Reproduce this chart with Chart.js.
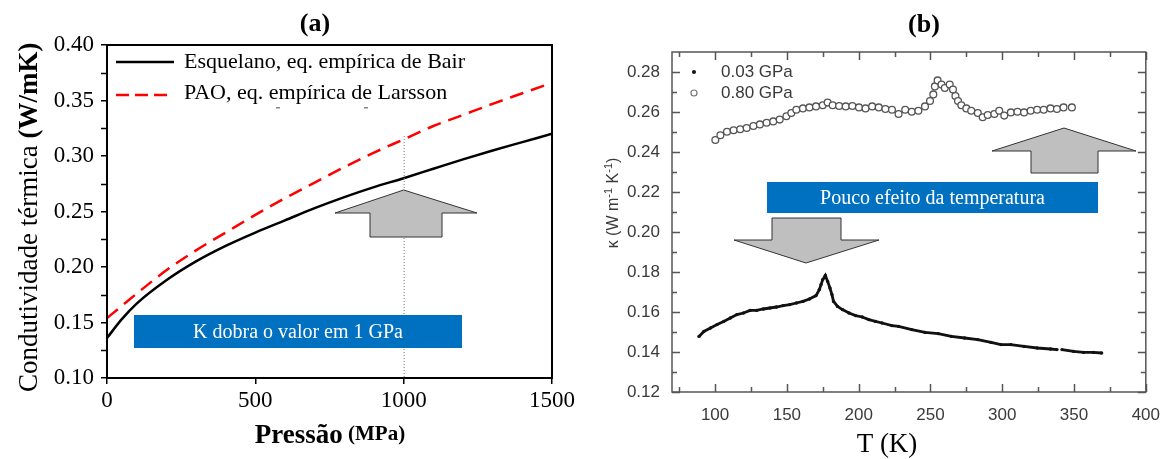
<!DOCTYPE html>
<html>
<head>
<meta charset="utf-8">
<script src="https://cdn.jsdelivr.net/npm/chart.js@4.4.1/dist/chart.umd.min.js"></script>
<style>
  body { margin: 0; background: #fff; width: 1173px; height: 459px; overflow: hidden; position: relative; }
  #wrapA { position: absolute; left: 0; top: 0; width: 585px; height: 459px; }
  #wrapB { position: absolute; left: 585px; top: 0; width: 588px; height: 459px; }
</style>
</head>
<body>
<div id="wrapA"><canvas id="chartA"></canvas></div>
<div id="wrapB"><canvas id="chartB"></canvas></div>
<script>
// ---- (a) conductivity vs pressure ----
const pressure = [0, 50, 100, 200, 300, 400, 500, 600, 700, 800, 900, 1000, 1100, 1200, 1300, 1400, 1500];
const kBair    = [0.136, 0.153, 0.167, 0.188, 0.205, 0.219, 0.231, 0.242, 0.253, 0.263, 0.272, 0.280, 0.2885, 0.297, 0.305, 0.3125, 0.320];
const kLarsson = [0.154, 0.165, 0.176, 0.197, 0.215, 0.231, 0.247, 0.262, 0.276, 0.290, 0.303, 0.315, 0.327, 0.337, 0.347, 0.3565, 0.366];
const xTicksA = [0, 500, 1000, 1500];
const yTicksA = [0.10, 0.15, 0.20, 0.25, 0.30, 0.35, 0.40];
const yMinorA = [0.125, 0.175, 0.225, 0.275, 0.325, 0.375];

// ---- (b) conductivity vs temperature ----
const tempLow = [88.8, 92.2, 96.8, 101.4, 106, 110.6, 115.2, 119.8, 124.4, 129, 133.6, 138.2, 142.8, 147.4, 152, 156.6,
  161.2, 165.7, 170.3, 172.6, 173.8, 175, 176.8, 178.4, 180, 181.4, 182.5, 185.3, 188.7, 193.3, 197.9, 202.5, 207.1,
  211.7, 216.3, 223.2, 227.8, 237, 246.2, 255.4, 264.6, 273.8, 283, 292.2, 299.1, 306, 315.2, 324.4, 333.6, 338.1,
  340, 341.6, 349.7, 356.6, 363.4, 369.2];
const kLow = [0.1478, 0.1503, 0.1520, 0.1537, 0.1553, 0.1570, 0.1587, 0.1595, 0.1608, 0.1608, 0.1615, 0.1620, 0.1625, 0.1632, 0.1637, 0.1645,
  0.1653, 0.1665, 0.1682, 0.1712, 0.1737, 0.1762, 0.1783, 0.1753, 0.1720, 0.1687, 0.1653, 0.1628, 0.1612, 0.1595, 0.1582, 0.1575, 0.1562,
  0.1553, 0.1545, 0.1532, 0.1528, 0.1512, 0.1498, 0.1492, 0.1478, 0.1470, 0.1462, 0.1448, 0.1437, 0.1437, 0.1428, 0.1420, 0.1415, 0.1412,
  null, 0.1412, 0.1403, 0.1398, 0.1398, 0.1395];
const tempHigh = [100.2, 103.7, 108.3, 112.9, 117.5, 122, 126.7, 131.2, 135.9, 140.5, 145, 149.7, 153.1, 156.6, 161.2, 165.7,
  170.3, 175, 178.4, 181.9, 186.4, 191, 195.6, 200.2, 204.8, 209.4, 214, 218.6, 223.2, 227.8, 232.4, 237, 241.6, 246.2,
  249.7, 252, 253.1, 255, 257.7, 260, 263.4, 265.7, 267.4, 269.2, 271.5, 275, 278.4, 283, 286.4, 289.9, 294.5, 297.9,
  301.4, 306, 310.6, 315.2, 319.8, 324.3, 328.9, 333.6, 338.1, 342.7, 348.5];
const kHigh = [0.2460, 0.2484, 0.2501, 0.2509, 0.2514, 0.2520, 0.2530, 0.2538, 0.2546, 0.2553, 0.2562, 0.2579, 0.2595, 0.2611, 0.2618, 0.2623,
  0.2628, 0.2634, 0.2647, 0.2634, 0.2630, 0.2628, 0.2630, 0.2623, 0.2618, 0.2628, 0.2623, 0.2615, 0.2611, 0.2590, 0.2611, 0.2601, 0.2606, 0.2628,
  0.2655, 0.2688, 0.2728, 0.2758, 0.2737, 0.2720, 0.2737, 0.2712, 0.2680, 0.2655, 0.2634, 0.2618, 0.2606, 0.2595, 0.2574, 0.2585, 0.2590, 0.2606,
  0.2582, 0.2598, 0.2601, 0.2598, 0.2606, 0.2611, 0.2611, 0.2618, 0.2615, 0.2623, 0.2623];
const xTicksB = [100, 150, 200, 250, 300, 350, 400];
const xMinorB = [75, 125, 175, 225, 275, 325, 375];
const yTicksB = [0.12, 0.14, 0.16, 0.18, 0.20, 0.22, 0.24, 0.26, 0.28];
const yMinorB = [0.13, 0.15, 0.17, 0.19, 0.21, 0.23, 0.25, 0.27];

const SERIF = '"Liberation Serif", "Times New Roman", serif';
const SANS = '"Liberation Sans", Arial, sans-serif';

function toPoints(xs, ys) {
  return xs.map((x, i) => ({ x: x, y: ys[i] }));
}
function poly(ctx, pts, fill, stroke) {
  ctx.beginPath();
  pts.forEach((p, i) => i ? ctx.lineTo(p[0], p[1]) : ctx.moveTo(p[0], p[1]));
  ctx.closePath();
  ctx.fillStyle = fill; ctx.fill();
  ctx.strokeStyle = stroke; ctx.lineWidth = 1; ctx.stroke();
}
function richText(ctx, parts, x, y) {
  let cx = x;
  parts.forEach(p => {
    ctx.font = p.font;
    ctx.fillText(p.t, cx, y + (p.dy || 0));
    cx += ctx.measureText(p.t).width;
  });
}
function richWidth(ctx, parts) {
  return parts.reduce((w, p) => { ctx.font = p.font; return w + ctx.measureText(p.t).width; }, 0);
}
function blueBox(ctx, x1, y1, x2, y2, text) {
  ctx.fillStyle = '#0070C0';
  ctx.fillRect(x1, y1, x2 - x1, y2 - y1);
  ctx.fillStyle = '#fff';
  ctx.font = '20px ' + SERIF;
  ctx.textAlign = 'center';
  ctx.textBaseline = 'middle';
  ctx.fillText(text, (x1 + x2) / 2, (y1 + y2) / 2 + 1);
}

// ------------------------------------
// Panel (a) decorations
// ------------------------------------
const decoA = {
  id: 'decoA',
  afterDraw(chart) {
    const { ctx, chartArea: a, scales: { x, y } } = chart;
    ctx.save();

    // dotted guide at 1 GPa
    const x1000 = x.getPixelForValue(1000);
    ctx.strokeStyle = '#777';
    ctx.lineWidth = 1;
    ctx.setLineDash([1, 2]);
    ctx.beginPath();
    ctx.moveTo(x1000 + 0.5, y.getPixelForValue(0.318));
    ctx.lineTo(x1000 + 0.5, a.bottom);
    ctx.stroke();
    ctx.setLineDash([]);

    // up arrow
    poly(ctx, [[x1000, 190], [477, 213], [442, 213], [442, 237], [370, 237], [370, 213], [335, 213]], '#BFBFBF', '#333');

    blueBox(ctx, 134, 315, 462, 348, 'K dobra o valor em 1 GPa');

    // frame + minor ticks
    ctx.strokeStyle = '#000';
    ctx.lineWidth = 2;
    ctx.strokeRect(a.left, a.top, a.right - a.left, a.bottom - a.top);
    ctx.lineWidth = 1.5;
    yMinorA.forEach(v => {
      const py = Math.round(y.getPixelForValue(v)) + 0.5;
      ctx.beginPath(); ctx.moveTo(a.left - 6, py); ctx.lineTo(a.left, py); ctx.stroke();
    });

    // legend
    ctx.strokeStyle = '#000'; ctx.lineWidth = 2.5;
    ctx.beginPath(); ctx.moveTo(116, 62); ctx.lineTo(174, 62); ctx.stroke();
    ctx.strokeStyle = '#FF0000';
    ctx.setLineDash([13, 6]);
    ctx.beginPath(); ctx.moveTo(116, 95); ctx.lineTo(167, 95); ctx.stroke();
    ctx.setLineDash([]);
    ctx.fillStyle = '#000';
    ctx.textAlign = 'left';
    ctx.textBaseline = 'alphabetic';
    ctx.font = '22px ' + SERIF;
    ctx.fillText('Esquelano, eq. empírica de Bair', 184, 68);
    ctx.fillText('PAO, eq. empírica de Larsson', 184, 99);
    ctx.fillStyle = '#888';
    ctx.fillRect(276, 107, 4, 1.5);
    ctx.fillRect(364, 107, 4, 1.5);

    // titles
    ctx.fillStyle = '#000';
    ctx.textAlign = 'center';
    ctx.font = 'bold 26px ' + SERIF;
    ctx.fillText('(a)', 315, 31);

    ctx.textAlign = 'left';
    const xt = [{ t: 'Pressão', font: 'bold 27px ' + SERIF }, { t: ' (MPa)', font: 'bold 21px ' + SERIF, dy: -3 }];
    richText(ctx, xt, 330 - richWidth(ctx, xt) / 2, 443);

    const yt = [{ t: 'Condutividade térmica ', font: '27px ' + SERIF }, { t: '(W/mK)', font: 'bold 27px ' + SERIF }];
    ctx.translate(37, 392);
    ctx.rotate(-Math.PI / 2);
    richText(ctx, yt, 0, 0);
    ctx.restore();
  }
};

// ------------------------------------
// Panel (b) decorations (canvas starts at x = 585)
// ------------------------------------
const decoB = {
  id: 'decoB',
  afterDraw(chart) {
    const { ctx, chartArea: a, scales: { x, y } } = chart;
    ctx.save();

    // frame with inward ticks on all sides
    ctx.strokeStyle = '#555';
    ctx.lineWidth = 1.5;
    ctx.strokeRect(a.left, a.top, a.right - a.left, a.bottom - a.top);
    const tick = (vals, len, isX) => vals.forEach(v => {
      ctx.beginPath();
      if (isX) {
        const px = Math.round(x.getPixelForValue(v)) + 0.5;
        ctx.moveTo(px, a.bottom); ctx.lineTo(px, a.bottom - len);
        ctx.moveTo(px, a.top); ctx.lineTo(px, a.top + len);
      } else {
        const py = Math.round(y.getPixelForValue(v)) + 0.5;
        ctx.moveTo(a.left, py); ctx.lineTo(a.left + len, py);
        ctx.moveTo(a.right, py); ctx.lineTo(a.right - len, py);
      }
      ctx.stroke();
    });
    tick(xTicksB, 8, true); tick(xMinorB, 5, true);
    tick(yTicksB, 8, false); tick(yMinorB, 5, false);

    // arrows and box
    poly(ctx, [[479, 128], [551, 151], [513, 151], [513, 173], [446, 173], [446, 151], [407, 151]], '#BFBFBF', '#333');
    blueBox(ctx, 182, 182, 513, 213, 'Pouco efeito da temperatura');
    poly(ctx, [[187, 218], [256, 218], [256, 240], [294, 240], [221, 263], [149, 240], [187, 240]], '#BFBFBF', '#333');

    // legend
    ctx.fillStyle = '#111';
    ctx.beginPath(); ctx.arc(109, 72, 2, 0, Math.PI * 2); ctx.fill();
    ctx.strokeStyle = '#777'; ctx.lineWidth = 1.2;
    ctx.beginPath(); ctx.arc(109, 93, 3, 0, Math.PI * 2); ctx.stroke();
    ctx.fillStyle = '#3a3a3a';
    ctx.font = '17px ' + SANS;
    ctx.textAlign = 'left';
    ctx.textBaseline = 'middle';
    ctx.fillText('0.03 GPa', 136, 72);
    ctx.fillText('0.80 GPa', 136, 93);

    // titles
    ctx.fillStyle = '#000';
    ctx.textAlign = 'center';
    ctx.textBaseline = 'alphabetic';
    ctx.font = 'bold 26px ' + SERIF;
    ctx.fillText('(b)', 339, 32);
    ctx.font = '27px ' + SERIF;
    ctx.fillText('T (K)', 302, 452);

    ctx.fillStyle = '#3a3a3a';
    ctx.textAlign = 'left';
    const yt = [
      { t: 'κ (W m', font: '16px ' + SANS },
      { t: '-1', font: '11px ' + SANS, dy: -6 },
      { t: ' K', font: '16px ' + SANS },
      { t: '-1', font: '11px ' + SANS, dy: -6 },
      { t: ')', font: '16px ' + SANS }
    ];
    ctx.translate(33, 203 + richWidth(ctx, yt) / 2);
    ctx.rotate(-Math.PI / 2);
    richText(ctx, yt, 0, 0);
    ctx.restore();
  }
};

new Chart(document.getElementById('chartA'), {
  type: 'scatter',
  data: {
    datasets: [
      { label: 'Esquelano, eq. empírica de Bair', data: toPoints(pressure, kBair), showLine: true,
        borderColor: '#000', borderWidth: 2.5, pointRadius: 0, cubicInterpolationMode: 'monotone' },
      { label: 'PAO, eq. empírica de Larsson', data: toPoints(pressure, kLarsson), showLine: true,
        borderColor: '#FF0000', borderWidth: 2.5, borderDash: [14, 8], pointRadius: 0, cubicInterpolationMode: 'monotone' }
    ]
  },
  options: {
    responsive: true, maintainAspectRatio: false, animation: false, devicePixelRatio: 1,
    layout: { padding: { left: 0, top: 45, right: 33, bottom: 0 } },
    plugins: { legend: { display: false }, tooltip: { enabled: false } },
    scales: {
      x: {
        type: 'linear', min: 0, max: 1500,
        afterBuildTicks: s => { s.ticks = xTicksA.map(v => ({ value: v })); },
        afterFit: s => { s.height = 81; },
        grid: { drawOnChartArea: false, drawTicks: true, tickLength: 6, color: '#000', lineWidth: 1.5 },
        border: { display: false },
        ticks: { color: '#000', font: { family: SERIF, size: 23 }, padding: 3, maxRotation: 0, autoSkip: false,
                 callback: v => String(v) }
      },
      y: {
        type: 'linear', min: 0.10, max: 0.40,
        afterBuildTicks: s => { s.ticks = yTicksA.map(v => ({ value: v })); },
        afterFit: s => { s.width = 107; },
        grid: { drawOnChartArea: false, drawTicks: true, tickLength: 6, color: '#000', lineWidth: 1.5 },
        border: { display: false },
        ticks: { color: '#000', font: { family: SERIF, size: 23 }, padding: 7, autoSkip: false,
                 callback: v => v.toFixed(2) }
      }
    }
  },
  plugins: [decoA]
});

new Chart(document.getElementById('chartB'), {
  type: 'scatter',
  data: {
    datasets: [
      { label: '0.03 GPa', data: toPoints(tempLow, kLow), showLine: true, spanGaps: false,
        borderColor: '#111', borderWidth: 2.8, pointRadius: 1.7, pointBackgroundColor: '#111', pointBorderWidth: 0 },
      { label: '0.80 GPa', data: toPoints(tempHigh, kHigh), showLine: false,
        pointRadius: 3.4, pointBorderColor: '#555', pointBorderWidth: 1.3, pointBackgroundColor: '#fff' }
    ]
  },
  options: {
    responsive: true, maintainAspectRatio: false, animation: false, devicePixelRatio: 1,
    layout: { padding: { left: 0, top: 52, right: 18, bottom: 0 } },
    plugins: { legend: { display: false }, tooltip: { enabled: false } },
    scales: {
      x: {
        type: 'linear', min: 70, max: 400,
        afterBuildTicks: s => { s.ticks = xTicksB.map(v => ({ value: v })); },
        afterFit: s => { s.height = 67; },
        grid: { display: false, drawTicks: false },
        border: { display: false },
        ticks: { color: '#3a3a3a', font: { family: SANS, size: 17 }, padding: 13, maxRotation: 0, autoSkip: false }
      },
      y: {
        type: 'linear', min: 0.12, max: 0.29,
        afterBuildTicks: s => { s.ticks = yTicksB.map(v => ({ value: v })); },
        afterFit: s => { s.width = 87; },
        grid: { display: false, drawTicks: false },
        border: { display: false },
        ticks: { color: '#3a3a3a', font: { family: SANS, size: 17 }, padding: 12, autoSkip: false,
                 callback: v => v.toFixed(2) }
      }
    }
  },
  plugins: [decoB]
});
</script>
</body>
</html>
